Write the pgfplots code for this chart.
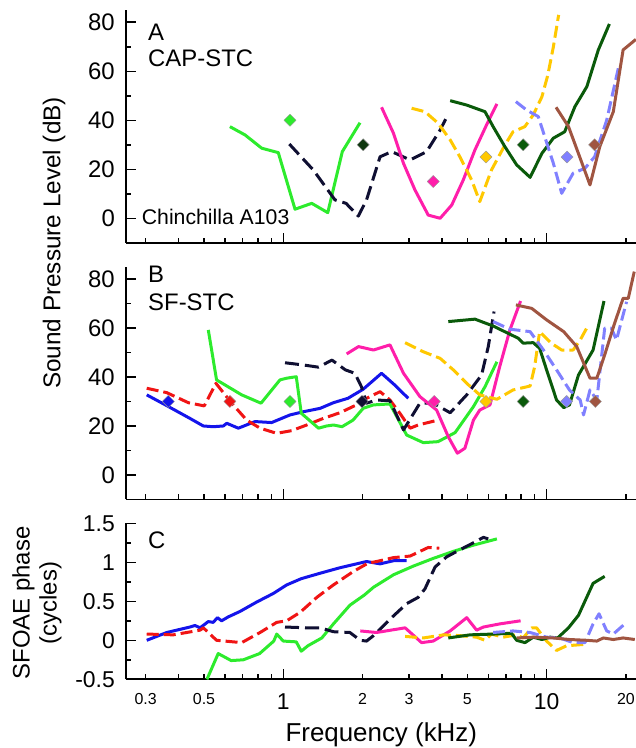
\documentclass[border=0pt]{standalone}
\usepackage{fontspec}
\setmainfont{Liberation Sans}
\usepackage{pgfplots}
\pgfplotsset{compat=1.18}
\definecolor{cgreen}{RGB}{45,235,45}
\definecolor{cnavy}{RGB}{15,15,50}
\definecolor{cpink}{RGB}{255,30,170}
\definecolor{cyellow}{RGB}{255,200,0}
\definecolor{cdkgreen}{RGB}{10,90,10}
\definecolor{cltblue}{RGB}{128,128,255}
\definecolor{cbrown}{RGB}{160,85,65}
\definecolor{cblue}{RGB}{20,20,235}
\definecolor{cred}{RGB}{240,20,20}
\definecolor{cdark}{RGB}{15,55,15}
\pgfplotsset{
  every axis/.append style={scale only axis, width=510bp, xmin=0.2528, xmax=21.83,
    axis x line*=bottom, axis y line*=left,
    axis line style={-, line width=1.8bp, black},
    tick style={line width=1.5bp, black}, major tick length=10bp, minor tick length=5bp,
    xtick={1,10}, minor xtick={0.3,0.4,0.5,0.6,0.7,0.8,0.9,2,3,4,5,6,7,8,9,20},
    extra x ticks={0.3,0.5,2,3,5,20},
    yticklabel style={font=\fontsize{24}{24}\selectfont, inner sep=0pt, xshift=-11bp}},
  every axis plot/.append style={line width=3bp, line join=round},
  myds/.style={dash pattern=on 12bp off 5bp},
  mydn/.style={dash pattern=on 14bp off 6bp},
  mydia/.style={only marks, mark=square*, mark size=4.3bp, mark options={rotate=45, draw=black!40, line width=0.4bp, fill=#1}},
}
\begin{document}
\begin{tikzpicture}[x=1bp,y=1bp]
\path[use as bounding box] (0,0) rectangle (636,748);
% ---------------- Panel A ----------------
\begin{semilogxaxis}[at={(126bp,505.2bp)}, anchor=south west, height=232.8bp, ymin=-10, ymax=85,
    ytick={0,20,40,60,80}, yticklabels={0,20,40,60,80}, minor ytick={10,30,50,70},
    xticklabels={}, extra x tick labels={}, extra x tick style={major tick length=5bp}]
\addplot[cgreen] coordinates {(0.627,37.4) (0.716,34) (0.828,28.6) (0.957,26.8) (1.108,3.7) (1.282,6.1) (1.475,2.3) (1.675,27.2) (1.955,39)};
\addplot[cnavy, mydn] coordinates {(1.054,30.3) (1.30,19.7) (1.571,7.5) (1.73,6.1) (1.927,0.9) (2.07,7.5) (2.33,25.1) (2.58,27.2) (3.03,23.8) (3.50,27.2) (3.94,36) (4.23,42.6)};
\addplot[cpink] coordinates {(2.36,45.3) (2.62,34.7) (2.86,22.4) (3.16,11.6) (3.55,1.3) (3.94,0) (4.36,5.4) (4.82,15.6) (5.34,27.9) (5.91,38.1) (6.47,46.7)};
\addplot[cyellow, myds] coordinates {(3.07,44.9) (3.45,43.5) (3.87,38.8) (4.30,32) (4.68,25.1) (5.19,15.6) (5.57,6.8) (6.17,19.7) (6.94,29.9) (7.45,35.3) (8.26,37.4) (8.89,42.2) (9.59,49.6) (10.1,58.5) (10.6,70) (11.1,83)};
\addplot[cdkgreen] coordinates {(4.30,48) (4.97,46.2) (5.83,43.5) (6.26,37.4) (6.94,29.2) (7.69,21.8) (8.65,16.7) (9.59,26.5) (10.6,32.7) (11.7,35.3) (12.8,45.6) (14.2,53.7) (15.7,68.7) (17.3,79.3)};
\addplot[cltblue, myds] coordinates {(7.64,47.6) (8.38,44.2) (9.29,41.5) (9.83,33.3) (10.6,22.4) (11.4,10.2) (12.6,18.4) (13.97,20.4) (15.2,25.1) (16.9,40.1) (18.7,61.2)};
\addplot[cbrown] coordinates {(10.85,45.3) (12.1,37.4) (13.4,24.5) (14.6,13.6) (15.9,29.2) (17.9,43.5) (19.5,68.7) (21.8,73)};
\addplot[mydia=cgreen] coordinates {(1.06,40)};
\addplot[mydia=cdark] coordinates {(2.01,30)};
\addplot[mydia=cpink] coordinates {(3.71,15)};
\addplot[mydia=cyellow] coordinates {(5.88,25)};
\addplot[mydia=cdkgreen] coordinates {(8.14,30)};
\addplot[mydia=cltblue] coordinates {(11.95,25)};
\addplot[mydia=cbrown] coordinates {(15.2,30)};
\end{semilogxaxis}
% ---------------- Panel B ----------------
\begin{semilogxaxis}[at={(126bp,248.5bp)}, anchor=south west, height=232.8bp, ymin=-10, ymax=85,
    ytick={0,20,40,60,80}, yticklabels={0,20,40,60,80}, minor ytick={10,30,50,70},
    xticklabels={}, extra x tick labels={}, extra x tick style={major tick length=5bp}]
\addplot[cblue] coordinates {(0.303,32.7) (0.361,28.3) (0.442,23.1) (0.497,20) (0.542,19.7) (0.592,20) (0.610,21.1) (0.675,19.1) (0.781,21.8) (0.903,21.4) (1.06,24.5) (1.19,25.8) (1.38,27.2) (1.55,29.5) (1.76,31.3) (2.01,35) (2.36,41.5) (2.65,36.7) (2.98,31.3)};
\addplot[cred, myds] coordinates {(0.303,35.4) (0.361,33.6) (0.436,29.5) (0.501,28.2) (0.555,37.4) (0.637,29.3) (0.726,22.4) (0.816,19.1) (0.944,17) (1.076,18.1) (1.227,20.4) (1.419,23.1) (1.64,25.4) (1.87,28.3) (2.07,31.3) (2.33,34) (2.54,30.6) (2.77,25.2) (3.03,19.1) (3.25,20.4) (3.87,22.4)};
\addplot[cgreen] coordinates {(0.519,59.2) (0.558,38.8) (0.695,32.7) (0.823,29.3) (0.971,38.8) (1.03,39.5) (1.12,40.1) (1.17,25.2) (1.36,19.1) (1.46,20) (1.55,20.4) (1.67,19.7) (1.84,22.4) (2.01,27.2) (2.20,28.6) (2.54,29) (2.94,16.3) (3.40,13.2) (3.87,13.6) (4.49,17.3) (5.27,27.9) (5.83,36) (6.47,46.2)};
\addplot[cnavy, mydn] coordinates {(1.015,45.8) (1.19,44.9) (1.36,44) (1.53,46.9) (1.72,42.9) (1.87,41.5) (1.98,36) (2.07,29.3) (2.26,30.6) (2.54,30.3) (2.86,18.4) (3.30,29.3) (3.71,29.3) (4.30,25.4) (4.97,32.7) (5.66,40.8) (6.00,52.4) (6.31,66.7)};
\addplot[cpink] coordinates {(1.74,49.4) (1.93,52.4) (2.20,51) (2.54,53.1) (2.86,41.5) (3.30,32) (3.82,26.5) (4.23,15.6) (4.58,8.9) (4.89,10.9) (5.27,22.4) (5.57,26.5) (6.09,28.6) (6.63,44.2) (7.25,59.2) (7.96,71)};
\addplot[cyellow, myds] coordinates {(2.90,54) (3.40,50.3) (3.94,47.6) (4.42,42.9) (4.97,37.4) (5.57,32.7) (6.47,30.9) (7.45,34.7) (8.65,36.3) (9.0,44.2) (9.4,58.5) (10.4,53.8) (11.4,51) (12.6,51) (13.4,55.1) (14.4,61.2)};
\addplot[cdkgreen] coordinates {(4.23,62.6) (5.34,63.6) (6.26,60.8) (7.14,57.8) (7.80,55.8) (8.14,53.8) (8.89,54) (9.4,51.7) (9.99,42.9) (10.9,30.6) (11.6,27.5) (12.2,28.6) (13.2,40.8) (15.0,51) (16.5,71)};
\addplot[cltblue, myds] coordinates {(6.26,62.6) (7.25,59.5) (8.65,58.5) (9.72,51) (10.9,42.9) (12.2,34.7) (13.4,30.6) (13.8,24.5) (14.6,34.7) (15.5,30.6) (16.6,59.9) (17.6,59.9) (18.4,55.1) (20.1,70.7)};
\addplot[cbrown] coordinates {(7.64,69.4) (8.77,68) (9.99,63.3) (11.6,58.5) (13.0,52.4) (14.6,39.5) (15.5,39.5) (16.6,49) (18.1,61.9) (19.5,72.1) (20.4,72.1) (21.5,83)};
\addplot[mydia=cblue] coordinates {(0.366,30)};
\addplot[mydia=cred] coordinates {(0.627,30)};
\addplot[mydia=cgreen] coordinates {(1.06,30)};
\addplot[mydia=cnavy] coordinates {(1.99,30)};
\addplot[mydia=cpink] coordinates {(3.74,30)};
\addplot[mydia=cyellow] coordinates {(5.88,30)};
\addplot[mydia=cdkgreen] coordinates {(8.14,30)};
\addplot[mydia=cltblue] coordinates {(11.9,30)};
\addplot[mydia=cbrown] coordinates {(15.3,30)};
\end{semilogxaxis}
% ---------------- Panel C ----------------
\begin{semilogxaxis}[at={(126bp,68.7bp)}, anchor=south west, height=156bp, ymin=-0.5, ymax=1.5,
  ytick={-0.5,0,0.5,1,1.5}, yticklabels={-0.5,0,0.5,1,1.5}, minor ytick={-0.25,0.25,0.75,1.25},
  yticklabel style={font=\fontsize{23}{23}\selectfont},
  xticklabels={1,10},
  xticklabel style={font=\fontsize{23}{23}\selectfont, anchor=north, inner sep=0pt, yshift=-14bp},
  extra x tick labels={0.3,0.5,2,3,5,20},
  extra x tick style={major tick length=5bp, xticklabel style={font=\fontsize{16}{16}\selectfont}}]
\addplot[cblue] coordinates {(0.303,0) (0.361,0.1) (0.442,0.17) (0.462,0.19) (0.483,0.16) (0.519,0.24) (0.542,0.23) (0.562,0.29) (0.583,0.25) (0.618,0.30) (0.685,0.37) (0.792,0.49) (0.916,0.60) (1.03,0.71) (1.17,0.79) (1.38,0.86) (1.64,0.93) (2.07,1.01) (2.33,0.98) (2.62,1.02) (2.94,1.02)};
\addplot[cred, myds] coordinates {(0.303,0.08) (0.382,0.07) (0.483,0.13) (0.497,0.16) (0.558,0) (0.695,-0.03) (0.816,0.1) (0.944,0.23) (1.03,0.25) (1.16,0.36) (1.34,0.55) (1.55,0.71) (1.84,0.88) (2.10,0.99) (2.26,1.01) (2.62,1.06) (3.03,1.08) (3.55,1.19) (3.91,1.18)};
\addplot[cgreen] coordinates {(0.513,-0.5) (0.566,-0.17) (0.634,-0.26) (0.705,-0.25) (0.813,-0.17) (0.92,-0.01) (0.944,0.08) (1.0,-0.01) (1.12,-0.02) (1.17,-0.14) (1.24,-0.07) (1.40,0.03) (1.55,0.21) (1.79,0.45) (2.03,0.58) (2.20,0.68) (2.62,0.84) (3.11,0.95) (3.71,1.05) (4.42,1.14) (5.27,1.22) (6.47,1.30)};
\addplot[cnavy, mydn] coordinates {(1.015,0.17) (1.23,0.16) (1.38,0.16) (1.55,0.11) (1.79,0.10) (1.96,0.0) (2.07,-0.01) (2.20,0.06) (2.54,0.27) (2.94,0.47) (3.25,0.55) (3.45,0.66) (3.77,0.94) (4.17,1.07) (4.68,1.16) (5.27,1.25) (5.75,1.32) (6.0,1.30)};
\addplot[cpink] coordinates {(1.96,0.12) (2.26,0.10) (2.90,0.16) (3.35,-0.03) (3.71,-0.01) (4.30,0.12) (4.97,0.29) (5.42,0.13) (5.75,0.17) (6.63,0.21) (7.96,0.25)};
\addplot[cyellow, myds] coordinates {(2.90,0.05) (3.40,0.03) (4.06,0.07) (4.68,0.06) (5.42,0.04) (5.83,0) (6.17,0.08) (6.83,0.04) (7.69,0.07) (8.14,0.03) (8.77,0.16) (9.15,0.16) (9.99,-0.01) (10.9,-0.13) (11.9,-0.07) (13.0,-0.06) (14.2,-0.05)};
\addplot[cdkgreen] coordinates {(4.23,0.03) (5.12,0.07) (6.26,0.08) (7.35,0.09) (7.69,0) (8.27,-0.03) (8.89,0.04) (9.59,0.01) (10.3,0.04) (11.0,0.03) (12.1,0.16) (13.2,0.32) (15.0,0.73) (16.6,0.82)};
\addplot[cltblue, myds] coordinates {(6.26,0.10) (7.45,0.12) (8.65,0.10) (9.99,0.04) (11.2,0.03) (12.6,-0.03) (13.97,-0.03) (15.0,0.21) (15.8,0.34) (16.9,0.12) (17.9,0.08) (20.1,0.23)};
\addplot[cbrown] coordinates {(7.69,0.03) (8.89,0.04) (10.6,0.03) (12.2,0.01) (14.2,0) (15.5,-0.01) (16.4,0.03) (17.9,0.01) (19.5,0.03) (21.6,0.01)};
\end{semilogxaxis}
% ---------------- Texts ----------------
\node[anchor=base west, inner sep=0pt, font=\fontsize{24}{24}\selectfont] at (148,707.8) {A};
\node[anchor=base west, inner sep=0pt, font=\fontsize{24}{24}\selectfont] at (148,681) {CAP-STC};
\node[anchor=base west, inner sep=0pt, font=\fontsize{21.3}{21.3}\selectfont] at (141.7,523) {Chinchilla A103};
\node[anchor=base west, inner sep=0pt, font=\fontsize{24}{24}\selectfont] at (148,465) {B};
\node[anchor=base west, inner sep=0pt, font=\fontsize{24}{24}\selectfont] at (148,437) {SF-STC};
\node[anchor=base west, inner sep=0pt, font=\fontsize{24}{24}\selectfont] at (148,199.7) {C};
\node[rotate=90, inner sep=0pt, font=\fontsize{24.4}{24.4}\selectfont] at (54,505) {Sound Pressure Level (dB)};
\node[rotate=90, inner sep=0pt, align=center, font=\fontsize{24}{27}\selectfont] at (37,145) {SFOAE phase\\(cycles)};
\node[anchor=base, inner sep=0pt, font=\fontsize{26}{26}\selectfont] at (381.3,6.3) {Frequency (kHz)};
\end{tikzpicture}
\end{document}
